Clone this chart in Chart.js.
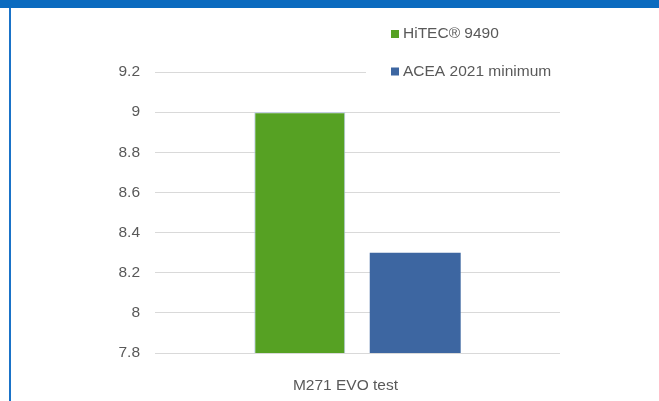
<!DOCTYPE html>
<html lang="en">
<head>
  <meta charset="UTF-8">
  <title>M271 EVO test</title>
  <script src="https://cdn.jsdelivr.net/npm/chart.js"></script>
  <style>
    body { margin: 0; background: white; }
    #wrap { position: absolute; left: 0; top: 0; width: 659px; height: 401px; }
    #topbar { position: absolute; left: 0; top: 0; width: 659px; height: 8px; background: #0b6bbf; }
    #leftbar { position: absolute; left: 9px; top: 8px; width: 2px; height: 393px; background: #1a73c8; }
  </style>
</head>
<body>
<div id="wrap"><canvas id="grafica"></canvas></div>
<div id="topbar"></div>
<div id="leftbar"></div>

<script>
const categorias = ["M271 EVO test"];
const series = ["HiTEC® 9490", "ACEA 2021 minimum"];
const valoresHitec = [9.0];
const valoresAcea = [8.3];
const colores = ["#56a123", "#3d66a1"];
const yTickLabels = ["7.8", "8", "8.2", "8.4", "8.6", "8.8", "9", "9.2"];

Chart.defaults.font.family = "'Liberation Sans', Arial, sans-serif";
Chart.defaults.font.size = 15.5;
Chart.defaults.color = "#595959";

// leyenda dibujada a mano sobre el area del grafico
const leyenda = {
  id: "leyenda",
  afterDraw(chart) {
    const ctx = chart.ctx;
    ctx.save();
    ctx.fillStyle = "white";
    ctx.fillRect(366, 14, 240, 72);
    ctx.font = "15.5px 'Liberation Sans', Arial, sans-serif";
    ctx.textBaseline = "middle";
    const ys = [34, 71.5];
    chart.data.datasets.forEach((ds, i) => {
      ctx.fillStyle = ds.backgroundColor;
      ctx.fillRect(391, ys[i] - 4, 8, 8);
      ctx.fillStyle = "#595959";
      ctx.fillText(ds.label, 403, ys[i]);
    });
    ctx.restore();
  }
};

new Chart(document.getElementById("grafica").getContext("2d"), {
  type: "bar",
  data: {
    labels: categorias,
    datasets: [
      { label: series[0], data: valoresHitec, backgroundColor: colores[0], borderColor: "#b4c7e7", borderWidth: 1 },
      { label: series[1], data: valoresAcea, backgroundColor: colores[1], borderWidth: 0 }
    ]
  },
  options: {
    responsive: true,
    maintainAspectRatio: false,
    animation: false,
    categoryPercentage: 0.57,
    barPercentage: 0.788,
    layout: { padding: { left: 0, top: 72, right: 99, bottom: 0 } },
    plugins: { legend: { display: false }, tooltip: { enabled: false } },
    scales: {
      x: {
        grid: { display: false, drawTicks: false },
        border: { display: false },
        ticks: { padding: 23, labelOffset: -12 },
        afterFit: s => { s.height = 48; }
      },
      y: {
        min: 7.8, max: 9.2,
        grid: { color: "#d9d9d9", drawTicks: false },
        border: { display: false },
        ticks: {
          stepSize: 0.2,
          padding: 15,
          callback: (v, i) => yTickLabels[i]
        },
        afterFit: s => { s.width = 155; }
      }
    }
  },
  plugins: [leyenda]
});
</script>
</body>
</html>
